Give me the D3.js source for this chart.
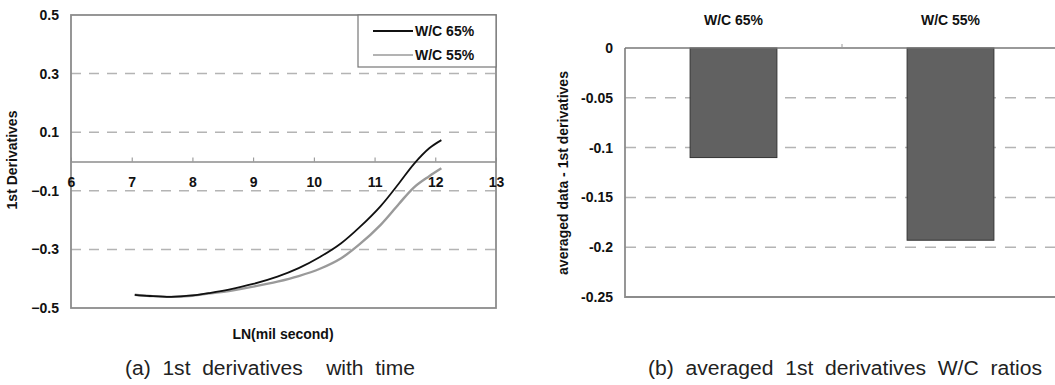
<!DOCTYPE html>
<html>
<head>
<meta charset="utf-8">
<script src="https://cdn.jsdelivr.net/npm/d3@7"></script>
<style>
  body { margin: 0; background: #fff; }
  svg text { font-family: "Liberation Sans", Arial, sans-serif; }
  .lbl { font-weight: bold; font-size: 14px; fill: #111; }
  .cap { font-size: 20px; fill: #222; white-space: pre; }
</style>
</head>
<body>
<div id="chart"></div>
<script>
// (a) 1st derivatives vs LN(mil second)
const seriesNames = ['W/C 65%', 'W/C 55%'];
const lnTime = [7.05, 7.3, 7.65, 8.0, 8.3, 8.6, 9.0, 9.4, 9.75, 10.1, 10.45, 10.75, 11.1, 11.4, 11.65, 11.9, 12.1];
const deriv65 = [-0.455, -0.459, -0.462, -0.457, -0.448, -0.437, -0.418, -0.393, -0.364, -0.326, -0.279, -0.225, -0.152, -0.075, -0.008, 0.045, 0.073];
const deriv55 = [-0.455, -0.459, -0.462, -0.458, -0.45, -0.442, -0.427, -0.41, -0.391, -0.366, -0.33, -0.283, -0.216, -0.145, -0.088, -0.05, -0.023];
const xTicksA = [6, 7, 8, 9, 10, 11, 12, 13];
const yTicksA = [-0.5, -0.3, -0.1, 0.1, 0.3, 0.5];

// (b) averaged 1st derivatives
const wcRatios = ['W/C 65%', 'W/C 55%'];
const avgDeriv = [-0.11, -0.193];
const yTicksB = [0, -0.05, -0.1, -0.15, -0.2, -0.25];

const svg = d3.select('#chart').append('svg')
    .attr('width', 1055)
    .attr('height', 385);

// ---------- left chart ----------
let xA = d3.scaleLinear().domain([6, 13]).range([71, 496]),
    yA = d3.scaleLinear().domain([-0.5, 0.5]).range([308, 15]);

let gA = svg.append('g');

// dashed grid
gA.selectAll('.gridA')
    .data(yTicksA.filter(d => d > -0.5 && d < 0.5))
    .enter().append('line')
    .attr('x1', xA(6)).attr('x2', xA(13))
    .attr('y1', d => yA(d)).attr('y2', d => yA(d))
    .attr('stroke', '#b4b4b4').attr('stroke-width', 1.5)
    .attr('stroke-dasharray', '10,8');

// frame
gA.append('rect')
    .attr('x', xA(6)).attr('y', yA(0.5))
    .attr('width', xA(13) - xA(6)).attr('height', yA(-0.5) - yA(0.5))
    .attr('fill', 'none').attr('stroke', '#8c8c8c').attr('stroke-width', 1.8);

// y axis labels
let yAxisA = gA.append('g')
    .attr('transform', `translate(${xA(6)},0)`)
    .call(d3.axisLeft(yA).tickValues(yTicksA).tickSize(0).tickPadding(12).tickFormat(d3.format('.1f')));
yAxisA.select('.domain').remove();
yAxisA.selectAll('text').attr('class', 'lbl').attr('font-family', null).attr('font-size', null).attr('fill', null);

// x axis on the zero line, ticks upward, labels below
let xAxisA = gA.append('g')
    .attr('transform', `translate(0,${yA(0)})`)
    .call(d3.axisBottom(xA).tickValues(xTicksA).tickSizeInner(-4).tickSizeOuter(0).tickPadding(16).tickFormat(d3.format('d')));
xAxisA.select('.domain').attr('stroke', '#8c8c8c').attr('stroke-width', 1.5);
xAxisA.selectAll('.tick line').attr('stroke', '#8c8c8c');
xAxisA.selectAll('text').attr('class', 'lbl').attr('font-family', null).attr('font-size', null).attr('fill', null);

// lines
let lineA = d3.line().x(d => xA(d[0])).y(d => yA(d[1])).curve(d3.curveCatmullRom.alpha(0.5));
gA.append('path')
    .datum(d3.zip(lnTime, deriv55))
    .attr('d', lineA)
    .attr('fill', 'none').attr('stroke', '#9a9a9a').attr('stroke-width', 2.4);
gA.append('path')
    .datum(d3.zip(lnTime, deriv65))
    .attr('d', lineA)
    .attr('fill', 'none').attr('stroke', '#111').attr('stroke-width', 1.8);

// legend
let leg = gA.append('g').attr('transform', 'translate(358,15)');
leg.append('rect').attr('width', 138).attr('height', 52)
    .attr('fill', '#fff').attr('stroke', '#777').attr('stroke-width', 1.2);
let legColors = ['#111', '#9a9a9a'];
seriesNames.forEach((name, i) => {
    leg.append('line')
        .attr('x1', 15).attr('x2', 55)
        .attr('y1', 16 + i * 24).attr('y2', 16 + i * 24)
        .attr('stroke', legColors[i]).attr('stroke-width', i ? 1.6 : 1.8);
    leg.append('text').attr('class', 'lbl')
        .attr('x', 57).attr('y', 21 + i * 24)
        .text(name);
});

// axis titles
gA.append('text').attr('class', 'lbl')
    .attr('text-anchor', 'middle')
    .attr('transform', 'translate(17,160) rotate(-90)')
    .text('1st Derivatives');
gA.append('text').attr('class', 'lbl')
    .attr('text-anchor', 'middle')
    .attr('x', 283).attr('y', 339)
    .text('LN(mil second)');

gA.append('text').attr('class', 'cap')
    .attr('x', 125).attr('y', 375)
    .attr('textLength', 290).attr('lengthAdjust', 'spacingAndGlyphs')
    .text('(a)  1st  derivatives    with  time');

// ---------- right chart ----------
let xB = d3.scaleBand().domain(wcRatios).range([625, 1059]).paddingInner(0.6).paddingOuter(0.3),
    yB = d3.scaleLinear().domain([-0.25, 0]).range([297, 48]);

let gB = svg.append('g');

gB.selectAll('.gridB')
    .data(yTicksB.filter(d => d < 0 && d > -0.25))
    .enter().append('line')
    .attr('x1', xB.range()[0]).attr('x2', xB.range()[1])
    .attr('y1', d => yB(d)).attr('y2', d => yB(d))
    .attr('stroke', '#b4b4b4').attr('stroke-width', 1.5)
    .attr('stroke-dasharray', '11,9');

// frame (left + bottom)
gB.append('path')
    .attr('d', `M${xB.range()[0]},${yB(0)}V${yB(-0.25)}H${xB.range()[1]}`)
    .attr('fill', 'none').attr('stroke', '#8c8c8c').attr('stroke-width', 1.8);

// bars
gB.selectAll('.bar')
    .data(d3.zip(wcRatios, avgDeriv))
    .enter().append('rect')
    .attr('class', 'bar')
    .attr('x', d => xB(d[0]))
    .attr('y', yB(0))
    .attr('width', xB.bandwidth())
    .attr('height', d => yB(d[1]) - yB(0))
    .attr('fill', '#616161').attr('stroke', '#333').attr('stroke-width', 1);

// zero axis line with category separator tick
gB.append('line')
    .attr('x1', xB.range()[0]).attr('x2', xB.range()[1])
    .attr('y1', yB(0)).attr('y2', yB(0))
    .attr('stroke', '#777').attr('stroke-width', 1.6);
let sep = (xB(wcRatios[0]) + xB.bandwidth() + xB(wcRatios[1])) / 2;
gB.append('line')
    .attr('x1', sep).attr('x2', sep)
    .attr('y1', yB(0)).attr('y2', yB(0) - 4)
    .attr('stroke', '#999').attr('stroke-width', 1);

// category labels on top
gB.selectAll('.cat')
    .data(wcRatios)
    .enter().append('text')
    .attr('class', 'lbl')
    .attr('text-anchor', 'middle')
    .attr('x', d => xB(d) + xB.bandwidth() / 2)
    .attr('y', 25)
    .text(d => d);

// y axis labels
let yAxisB = gB.append('g')
    .attr('transform', `translate(${xB.range()[0]},0)`)
    .call(d3.axisLeft(yB).tickValues(yTicksB).tickSize(0).tickPadding(12).tickFormat(d => d === 0 ? '0' : String(d)));
yAxisB.select('.domain').remove();
yAxisB.selectAll('text').attr('class', 'lbl').attr('font-family', null).attr('font-size', null).attr('fill', null);

gB.append('text').attr('class', 'lbl')
    .attr('text-anchor', 'middle')
    .attr('transform', 'translate(568,173) rotate(-90)')
    .text('averaged data - 1st derivatives');

gB.append('text').attr('class', 'cap')
    .attr('x', 648).attr('y', 375)
    .attr('textLength', 394).attr('lengthAdjust', 'spacingAndGlyphs')
    .text('(b)  averaged  1st  derivatives  W/C  ratios');
</script>
</body>
</html>
